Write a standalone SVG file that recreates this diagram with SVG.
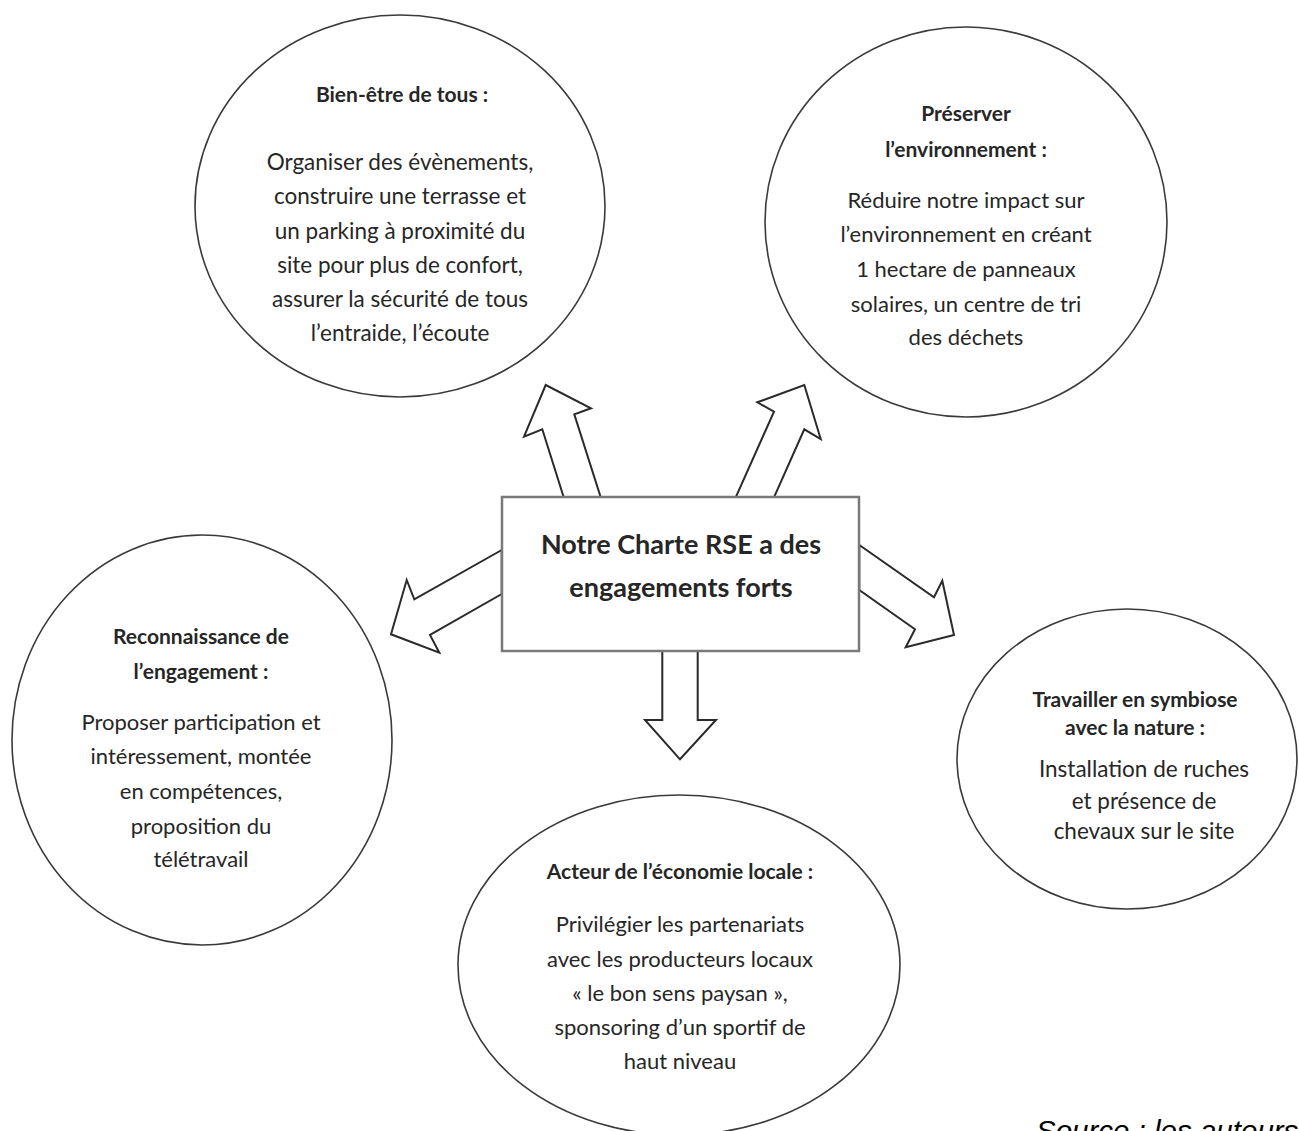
<svg xmlns="http://www.w3.org/2000/svg" width="1299" height="1131" viewBox="0 0 1299 1131">
<style>
.bg{fill:#ffffff}
.node{fill:#ffffff;stroke:#3a3a3a;stroke-width:1.6}
.box{fill:#ffffff;stroke:#7a7a7a;stroke-width:2.5}
.arrow{fill:#ffffff;stroke:#2a2a2a;stroke-width:2;stroke-linejoin:miter}
text{font-family:Lato,"Open Sans","Liberation Sans",sans-serif;fill:#262626;text-anchor:middle}
.t{font-weight:bold;font-size:21px}
.b{font-size:22.5px}
.b2{font-size:22px}
.c{font-weight:bold;font-size:27px}
.src{font-family:"Liberation Sans",Arial,sans-serif;font-style:italic;font-size:29.5px;text-anchor:start;fill:#000}
</style>
<rect class="bg" x="0" y="0" width="1299" height="1131"/>
<g id="connectors">
<polygon class="arrow" points="563.7,497.3 542.3,429.3 524,436.7 545.7,385 591,408.3 574.3,414.3 600.7,497.3"/>
<polygon class="arrow" points="735.7,497.3 774,411.7 757.3,402.3 804.3,385 820.7,439 804.3,429.3 774,497.3"/>
<polygon class="arrow" points="501.7,550 414.3,599.3 406.7,580 391,634.3 439.3,652.7 430,635 501.7,594"/>
<polygon class="arrow" points="859.3,545 934,597.3 942.3,580.7 954,635 905.7,647.3 915,629.3 859.3,590"/>
<polygon class="arrow" points="662.3,651 662.3,720 645,720 680,759.3 716,720 697.7,720 697.7,651"/>
</g>
<g id="center">
<rect class="box" x="502" y="497" width="357" height="154"/>
<text class="c" x="681" y="554">Notre Charte RSE a des</text>
<text class="c" x="681" y="597">engagements forts</text>
</g>
<g id="bien-etre">
<ellipse class="node" cx="400" cy="206" rx="205" ry="191"/>
<text class="t" x="402" y="102">Bien-être de tous :</text>
<text class="b" x="400" y="170">Organiser des évènements,</text>
<text class="b" x="400" y="204">construire une terrasse et</text>
<text class="b" x="400" y="239">un parking à proximité du</text>
<text class="b" x="400" y="273">site pour plus de confort,</text>
<text class="b" x="400" y="307">assurer la sécurité de tous</text>
<text class="b" x="400" y="341">l’entraide, l’écoute</text>
</g>
<g id="environnement">
<ellipse class="node" cx="966" cy="222" rx="201" ry="195"/>
<text class="t" x="966" y="121">Préserver</text>
<text class="t" x="966" y="157">l’environnement :</text>
<text class="b2" x="966" y="208">Réduire notre impact sur</text>
<text class="b2" x="966" y="242">l’environnement en créant</text>
<text class="b2" x="966" y="277">1 hectare de panneaux</text>
<text class="b2" x="966" y="312">solaires, un centre de tri</text>
<text class="b2" x="966" y="345">des déchets</text>
</g>
<g id="reconnaissance">
<ellipse class="node" cx="202" cy="740" rx="190" ry="205"/>
<text class="t" x="201" y="644">Reconnaissance de</text>
<text class="t" x="201" y="679">l’engagement :</text>
<text class="b2" x="201" y="730">Proposer participation et</text>
<text class="b2" x="201" y="764">intéressement, montée</text>
<text class="b2" x="201" y="799">en compétences,</text>
<text class="b2" x="201" y="834">proposition du</text>
<text class="b2" x="201" y="867">télétravail</text>
</g>
<g id="nature">
<ellipse class="node" cx="1127" cy="759" rx="170" ry="150"/>
<text class="t" x="1135" y="707">Travailler en symbiose</text>
<text class="t" x="1135" y="735">avec la nature :</text>
<text class="b" x="1144" y="777">Installation de ruches</text>
<text class="b" x="1144" y="809">et présence de</text>
<text class="b" x="1144" y="839">chevaux sur le site</text>
</g>
<g id="economie">
<ellipse class="node" cx="679" cy="965" rx="221" ry="170"/>
<text class="t" x="680" y="879">Acteur de l’économie locale :</text>
<text class="b2" x="680" y="932">Privilégier les partenariats</text>
<text class="b2" x="680" y="967">avec les producteurs locaux</text>
<text class="b2" x="680" y="1001">« le bon sens paysan »,</text>
<text class="b2" x="680" y="1035">sponsoring d’un sportif de</text>
<text class="b2" x="680" y="1069">haut niveau</text>
</g>
<text class="src" x="1036" y="1141">Source : les auteurs</text>
</svg>
